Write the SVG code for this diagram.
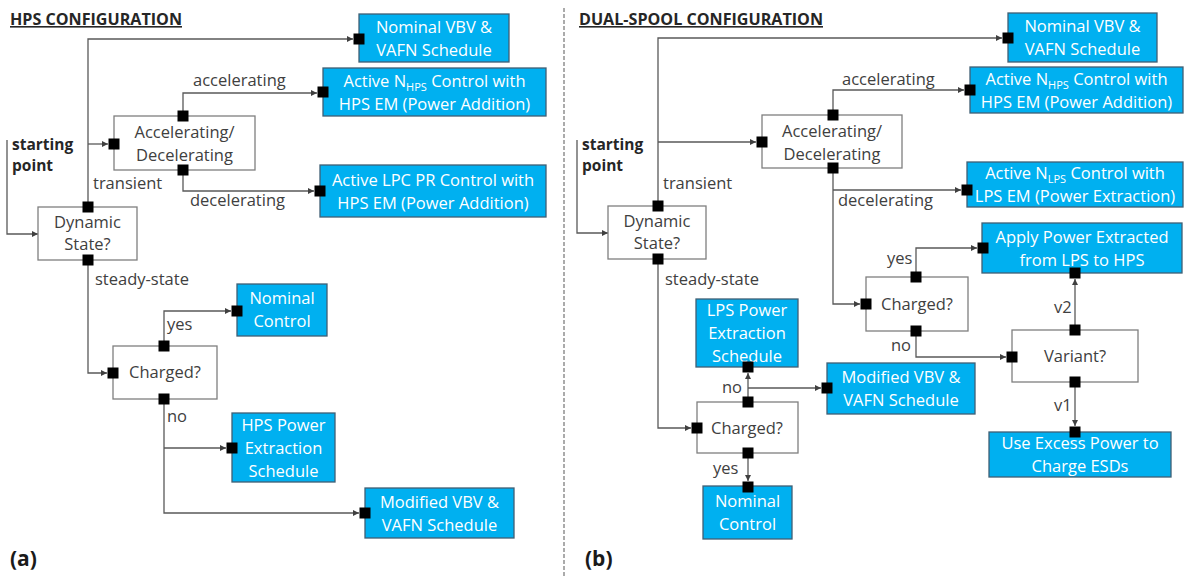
<svg xmlns="http://www.w3.org/2000/svg" width="1185" height="576" viewBox="0 0 1185 576">
<defs>
<marker id="ah" viewBox="0 0 8 8" refX="8" refY="4" markerWidth="7" markerHeight="6" markerUnits="userSpaceOnUse" orient="auto">
<path d="M0,0 L8,4 L0,8 Z" fill="#404040"/>
</marker>
<style>
text{font-family:"Open Sans","Liberation Sans",sans-serif;}
.bx{fill:#FFFFFF;stroke:#7F7F7F;stroke-width:1.3;}
.bb{fill:#00B0F0;stroke:#3F5F74;stroke-width:1.3;}
.bt{fill:#FFFFFF;font-size:16.5px;text-anchor:middle;}
.wt{fill:#404040;font-size:16.5px;text-anchor:middle;}
.lb{fill:#404040;font-size:16.5px;}
.sp{fill:#262626;font-size:15.5px;font-weight:bold;}
.tt{fill:#262626;font-size:16px;font-weight:bold;text-decoration:underline;}
.pl{fill:#1a1a1a;font-size:21px;font-weight:bold;}
.sub{font-size:11px;}
.pt{fill:#000000;}
.cn{fill:none;stroke:#595959;stroke-width:1.3;}
.ca{fill:none;stroke:#595959;stroke-width:1.3;marker-end:url(#ah);}
</style>
</defs>

<!-- titles and panel labels -->
<text class="tt" x="10" y="25" textLength="172" lengthAdjust="spacingAndGlyphs">HPS CONFIGURATION</text>
<text class="tt" x="579" y="25" textLength="244" lengthAdjust="spacingAndGlyphs">DUAL-SPOOL CONFIGURATION</text>
<text class="pl" x="10" y="566">(a)</text>
<text class="pl" x="585" y="566">(b)</text>
<line x1="564" y1="8" x2="564" y2="576" stroke="#7F7F7F" stroke-width="1.3" stroke-dasharray="4 2"/>

<!-- connectors -->
<g id="connectors">
<!-- panel a -->
<path class="ca" d="M7,140 V234 H38"/>
<path class="ca" d="M88,207 V39 H353"/>
<path class="ca" d="M88,144 H108"/>
<path class="ca" d="M183,116 V93 H317"/>
<path class="ca" d="M183,170 V191 H314"/>
<path class="ca" d="M88,260 V373 H107"/>
<path class="ca" d="M164,346 V311 H231"/>
<path class="ca" d="M164,399 V513 H359"/>
<path class="ca" d="M164,448 H226"/>
<!-- panel b -->
<path class="ca" d="M577,140 V233 H608"/>
<path class="ca" d="M658,206 V38 H1002"/>
<path class="ca" d="M658,142 H756"/>
<path class="ca" d="M833,115 V90 H964"/>
<path class="ca" d="M833,168 V304 H860"/>
<path class="ca" d="M833,190 H961"/>
<path class="ca" d="M916,277 V248 H977"/>
<path class="ca" d="M916,331 V357 H1006"/>
<path class="ca" d="M1075,330 V279"/>
<path class="ca" d="M1075,382 V426"/>
<path class="ca" d="M658,259 V428 H691"/>
<path class="ca" d="M748,402 V373"/>
<path class="ca" d="M748,388 H821"/>
<path class="ca" d="M748,453 V481"/>
</g>

<!-- connector labels -->
<g id="labels">
<text class="sp" x="12" y="150">starting</text>
<text class="sp" x="12" y="171">point</text>
<text class="lb" x="193" y="86">accelerating</text>
<text class="lb" x="190" y="206">decelerating</text>
<text class="lb" x="93" y="189">transient</text>
<text class="lb" x="95" y="285">steady-state</text>
<text class="lb" x="167" y="330">yes</text>
<text class="lb" x="167" y="422">no</text>

<text class="sp" x="582" y="150">starting</text>
<text class="sp" x="582" y="171">point</text>
<text class="lb" x="842" y="85">accelerating</text>
<text class="lb" x="838" y="206">decelerating</text>
<text class="lb" x="663" y="189">transient</text>
<text class="lb" x="665" y="285">steady-state</text>
<text class="lb" x="887" y="264">yes</text>
<text class="lb" x="891" y="351">no</text>
<text class="lb" x="1054" y="313">v2</text>
<text class="lb" x="1054" y="411">v1</text>
<text class="lb" x="722" y="393">no</text>
<text class="lb" x="713" y="474">yes</text>
</g>

<!-- panel a nodes -->
<g id="a-dynamic">
<rect class="bx" x="38" y="207" width="99" height="53"/>
<text class="wt" x="87.5" y="227.5">Dynamic</text>
<text class="wt" x="87.5" y="249.5">State?</text>
<rect class="pt" x="82.5" y="201.5" width="11" height="11"/>
<rect class="pt" x="82.5" y="254.5" width="11" height="11"/>
</g>
<g id="a-accel">
<rect class="bx" x="114" y="116" width="141" height="54"/>
<text class="wt" x="184.5" y="138">Accelerating/</text>
<text class="wt" x="184.5" y="161">Decelerating</text>
<rect class="pt" x="108.5" y="138.5" width="11" height="11"/>
<rect class="pt" x="177.5" y="110.5" width="11" height="11"/>
<rect class="pt" x="177.5" y="164.5" width="11" height="11"/>
</g>
<g id="a-nominal-vbv">
<rect class="bb" x="359" y="14" width="150" height="48"/>
<text class="bt" x="434" y="32.5">Nominal VBV &amp;</text>
<text class="bt" x="434" y="55.5">VAFN Schedule</text>
<rect class="pt" x="353.5" y="33.5" width="11" height="11"/>
</g>
<g id="a-nhps">
<rect class="bb" x="323" y="68" width="223" height="48"/>
<text class="bt" x="434.5" y="86.5">Active N<tspan class="sub" dy="4">HPS</tspan><tspan dy="-4"> Control with</tspan></text>
<text class="bt" x="434.5" y="109.5">HPS EM (Power Addition)</text>
<rect class="pt" x="317.5" y="86.5" width="11" height="11"/>
</g>
<g id="a-lpc">
<rect class="bb" x="320" y="165" width="226" height="52"/>
<text class="bt" x="433" y="185.5">Active LPC PR Control with</text>
<text class="bt" x="433" y="208.5">HPS EM (Power Addition)</text>
<rect class="pt" x="314.5" y="185.5" width="11" height="11"/>
</g>
<g id="a-charged">
<rect class="bx" x="113" y="346" width="104" height="53"/>
<text class="wt" x="165" y="378">Charged?</text>
<rect class="pt" x="107.5" y="367.5" width="11" height="11"/>
<rect class="pt" x="158.5" y="340.5" width="11" height="11"/>
<rect class="pt" x="158.5" y="393.5" width="11" height="11"/>
</g>
<g id="a-nominal-control">
<rect class="bb" x="237" y="284" width="90" height="52"/>
<text class="bt" x="282" y="304">Nominal</text>
<text class="bt" x="282" y="327">Control</text>
<rect class="pt" x="231.5" y="305.5" width="11" height="11"/>
</g>
<g id="a-hps-power">
<rect class="bb" x="232" y="413" width="103" height="69"/>
<text class="bt" x="283.5" y="431">HPS Power</text>
<text class="bt" x="283.5" y="454">Extraction</text>
<text class="bt" x="283.5" y="477">Schedule</text>
<rect class="pt" x="226.5" y="442.5" width="11" height="11"/>
</g>
<g id="a-modified-vbv">
<rect class="bb" x="365" y="488" width="149" height="50"/>
<text class="bt" x="439.5" y="507.5">Modified VBV &amp;</text>
<text class="bt" x="439.5" y="530.5">VAFN Schedule</text>
<rect class="pt" x="359.5" y="507.5" width="11" height="11"/>
</g>

<!-- panel b nodes -->
<g id="b-dynamic">
<rect class="bx" x="608" y="206" width="98" height="53"/>
<text class="wt" x="657" y="226.5">Dynamic</text>
<text class="wt" x="657" y="248.5">State?</text>
<rect class="pt" x="652.5" y="200.5" width="11" height="11"/>
<rect class="pt" x="652.5" y="253.5" width="11" height="11"/>
</g>
<g id="b-accel">
<rect class="bx" x="762" y="115" width="140" height="53"/>
<text class="wt" x="832" y="136.5">Accelerating/</text>
<text class="wt" x="832" y="159.5">Decelerating</text>
<rect class="pt" x="756.5" y="136.5" width="11" height="11"/>
<rect class="pt" x="827.5" y="109.5" width="11" height="11"/>
<rect class="pt" x="827.5" y="162.5" width="11" height="11"/>
</g>
<g id="b-nominal-vbv">
<rect class="bb" x="1008" y="13" width="149" height="49"/>
<text class="bt" x="1082.5" y="32">Nominal VBV &amp;</text>
<text class="bt" x="1082.5" y="55">VAFN Schedule</text>
<rect class="pt" x="1002.5" y="32.5" width="11" height="11"/>
</g>
<g id="b-nhps">
<rect class="bb" x="970" y="67" width="213" height="46"/>
<text class="bt" x="1076.5" y="84.5">Active N<tspan class="sub" dy="4">HPS</tspan><tspan dy="-4"> Control with</tspan></text>
<text class="bt" x="1076.5" y="107.5">HPS EM (Power Addition)</text>
<rect class="pt" x="964.5" y="84.5" width="11" height="11"/>
</g>
<g id="b-nlps">
<rect class="bb" x="967" y="162" width="216" height="45"/>
<text class="bt" x="1075" y="179">Active N<tspan class="sub" dy="4">LPS</tspan><tspan dy="-4"> Control with</tspan></text>
<text class="bt" x="1075" y="202">LPS EM (Power Extraction)</text>
<rect class="pt" x="961.5" y="184.5" width="11" height="11"/>
</g>
<g id="b-apply">
<rect class="bb" x="982" y="223" width="200" height="50"/>
<text class="bt" x="1082" y="242.5">Apply Power Extracted</text>
<text class="bt" x="1082" y="265.5">from LPS to HPS</text>
<rect class="pt" x="977.5" y="242.5" width="11" height="11"/>
<rect class="pt" x="1069.5" y="267.5" width="11" height="11"/>
</g>
<g id="b-charged-upper">
<rect class="bx" x="866" y="277" width="102" height="54"/>
<text class="wt" x="917" y="310">Charged?</text>
<rect class="pt" x="860.5" y="298.5" width="11" height="11"/>
<rect class="pt" x="910.5" y="271.5" width="11" height="11"/>
<rect class="pt" x="910.5" y="325.5" width="11" height="11"/>
</g>
<g id="b-variant">
<rect class="bx" x="1012" y="330" width="126" height="52"/>
<text class="wt" x="1075" y="362">Variant?</text>
<rect class="pt" x="1006.5" y="351.5" width="11" height="11"/>
<rect class="pt" x="1069.5" y="324.5" width="11" height="11"/>
<rect class="pt" x="1069.5" y="376.5" width="11" height="11"/>
</g>
<g id="b-use-excess">
<rect class="bb" x="989" y="432" width="182" height="45"/>
<text class="bt" x="1080" y="449">Use Excess Power to</text>
<text class="bt" x="1080" y="472">Charge ESDs</text>
<rect class="pt" x="1069.5" y="426.5" width="11" height="11"/>
</g>
<g id="b-lps-power">
<rect class="bb" x="696" y="299" width="102" height="68"/>
<text class="bt" x="747" y="316">LPS Power</text>
<text class="bt" x="747" y="339">Extraction</text>
<text class="bt" x="747" y="362">Schedule</text>
<rect class="pt" x="742.5" y="361.5" width="11" height="11"/>
</g>
<g id="b-modified-vbv">
<rect class="bb" x="827" y="363" width="148" height="51"/>
<text class="bt" x="901" y="383">Modified VBV &amp;</text>
<text class="bt" x="901" y="406">VAFN Schedule</text>
<rect class="pt" x="821.5" y="382.5" width="11" height="11"/>
</g>
<g id="b-charged-lower">
<rect class="bx" x="697" y="402" width="101" height="51"/>
<text class="wt" x="747" y="434">Charged?</text>
<rect class="pt" x="691.5" y="422.5" width="11" height="11"/>
<rect class="pt" x="742.5" y="396.5" width="11" height="11"/>
<rect class="pt" x="742.5" y="447.5" width="11" height="11"/>
</g>
<g id="b-nominal-control">
<rect class="bb" x="703" y="486" width="89" height="53"/>
<text class="bt" x="747.5" y="507">Nominal</text>
<text class="bt" x="747.5" y="530">Control</text>
<rect class="pt" x="742.5" y="481.5" width="11" height="11"/>
</g>
</svg>
